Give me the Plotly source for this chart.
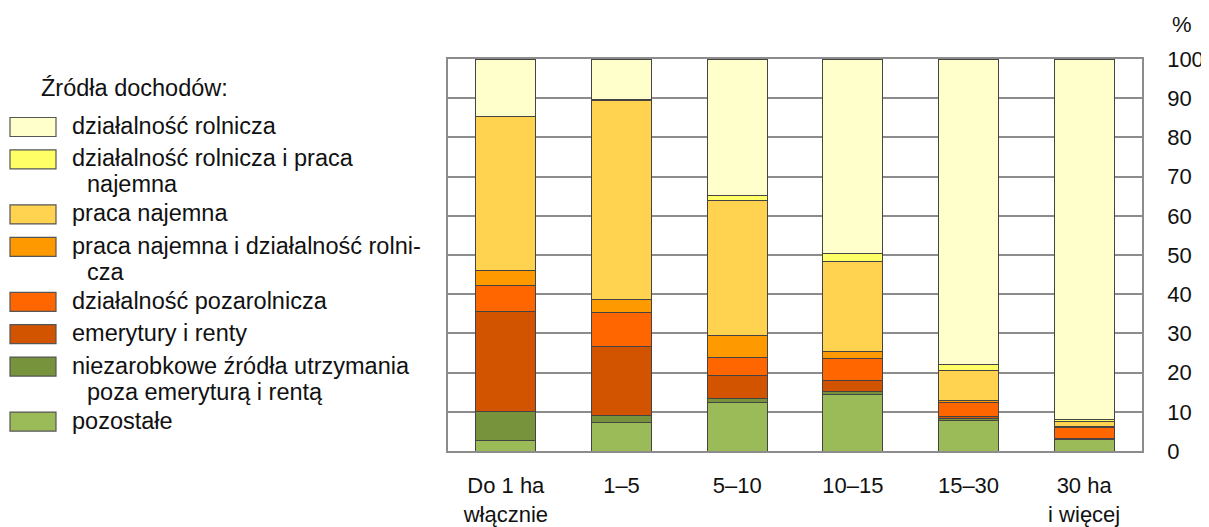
import plotly.graph_objects as go

# ---- data ----
categories = ["Do 1 ha<br>włącznie", "1–5", "5–10", "10–15", "15–30", "30 ha<br>i więcej"]

pozostale = [2.7, 7.3, 12.3, 14.5, 7.8, 3.0]
niezarobkowe = [7.3, 1.8, 1.0, 0.8, 0.4, 0.1]
emerytury = [25.7, 17.5, 5.9, 2.7, 0.5, 0.2]
pozarolnicza = [6.5, 8.8, 4.6, 5.5, 3.6, 2.7]
praca_dzial = [3.8, 3.2, 5.6, 1.8, 0.5, 0.3]
praca_najemna = [39.3, 50.7, 34.5, 23.1, 7.8, 1.2]
dzial_praca = [0.0, 0.3, 1.4, 2.0, 1.5, 0.5]
dzial_rolnicza = [14.7, 10.4, 34.7, 49.6, 77.9, 92.0]

# stacking order bottom -> top
series_names = ["pozostałe", "niezarobkowe źródła utrzymania poza emeryturą i rentą",
                "emerytury i renty", "działalność pozarolnicza",
                "praca najemna i działalność rolnicza", "praca najemna",
                "działalność rolnicza i praca najemna", "działalność rolnicza"]
series_values = [pozostale, niezarobkowe, emerytury, pozarolnicza,
                 praca_dzial, praca_najemna, dzial_praca, dzial_rolnicza]
series_colors = ["#9BBB59", "#77933C", "#D35400", "#FF6600",
                 "#FF9900", "#FFD34F", "#FFFF66", "#FFFFCC"]
# legend lines (same order as series)
legend_lines = [["pozostałe"],
                ["niezarobkowe źródła utrzymania", "poza emeryturą i rentą"],
                ["emerytury i renty"],
                ["działalność pozarolnicza"],
                ["praca najemna i działalność rolni-", "cza"],
                ["praca najemna"],
                ["działalność rolnicza i praca", "najemna"],
                ["działalność rolnicza"]]
legend_title = "Źródła dochodów:"
y_ticks = list(range(0, 101, 10))

FONT = "Liberation Sans, Arial, sans-serif"
FS_AX = 22
FS_LEG = 23.5
TXT = "#111111"

# page body has an 8px margin: the figure is drawn 8px right/down of the window corner
OFF = 8
W, H = 1209 - OFF, 527 - OFF
ML, MR, MT, MB = 448 - OFF, 67, 59 - OFF, 76
PW, PH = W - ML - MR, H - MT - MB


def px_x(px):  # window pixel -> paper x
    return (px - OFF - ML) / PW


def px_y(py):  # window pixel -> paper y
    return (H - MB - (py - OFF)) / PH


fig = go.Figure()
for name, vals, col in zip(series_names, series_values, series_colors):
    fig.add_trace(go.Bar(x=categories, y=vals, name=name,
                         marker=dict(color=col, line=dict(color="#444444", width=1)),
                         showlegend=False))

# ---- custom legend ----
shapes = []
annotations = []
annotations.append(dict(text=legend_title, x=px_x(39), y=px_y(88), xref="paper", yref="paper",
                        xanchor="left", yanchor="middle", showarrow=False,
                        font=dict(family=FONT, size=FS_LEG, color=TXT)))
leg_order = list(range(len(series_names)))[::-1]
row_y = 127
for idx in leg_order:
    lines = legend_lines[idx]
    shapes.append(dict(type="rect", xref="paper", yref="paper",
                       x0=px_x(10), x1=px_x(56), y0=px_y(row_y - 9.5), y1=px_y(row_y + 9.5),
                       fillcolor=series_colors[idx], line=dict(color="#555555", width=1.2)))
    for k, ln in enumerate(lines):
        annotations.append(dict(text=ln, x=px_x(70 if k == 0 else 85), y=px_y(row_y - 1 + 26 * k),
                                xref="paper", yref="paper", xanchor="left", yanchor="middle",
                                showarrow=False,
                                font=dict(family=FONT, size=FS_LEG, color=TXT)))
    row_y += 55 if len(lines) > 1 else 32.4

annotations.append(dict(text="%", x=px_x(1182), y=px_y(25), xref="paper", yref="paper",
                        xanchor="center", yanchor="middle", showarrow=False,
                        font=dict(family=FONT, size=FS_AX, color=TXT)))

fig.update_layout(
    width=W, height=H,
    margin=dict(l=ML, r=MR, t=MT, b=MB, autoexpand=False),
    barmode="stack", bargap=0.48,
    plot_bgcolor="white", paper_bgcolor="white",
    font=dict(family=FONT, size=FS_AX, color=TXT),
    shapes=shapes, annotations=annotations,
    xaxis=dict(showgrid=False, showline=True, linecolor="#8c8c8c", linewidth=1.5,
               mirror=True, ticks="", ticklabelstandoff=14, automargin=False,
               tickfont=dict(family=FONT, size=FS_AX, color=TXT)),
    yaxis=dict(side="right", range=[0, 100], tickvals=y_ticks, showgrid=True,
               gridcolor="#8c8c8c", gridwidth=1.5, showline=True, linecolor="#8c8c8c",
               linewidth=1.5, mirror=True, ticks="", ticklabelstandoff=19,
               zeroline=False, automargin=False,
               tickfont=dict(family=FONT, size=FS_AX, color=TXT)),
)

fig.write_html("out.html")
